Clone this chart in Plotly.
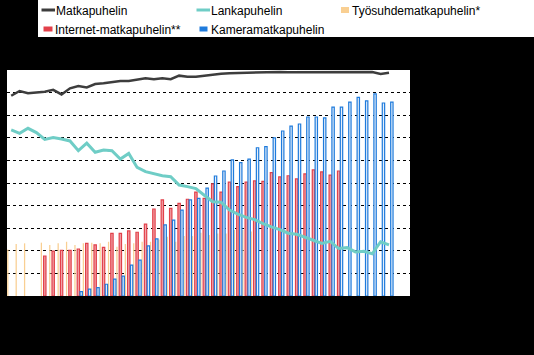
import plotly.graph_objects as go

# ---------------- data ----------------
n_slots = 48  # 46 observed periods + 2 empty slots at the right
x_idx = list(range(46))

matkapuhelin = [88.6, 90.7, 89.7, 90.1, 90.4, 91.2, 89.2, 91.9, 92.9, 92.3,
                93.8, 94.1, 94.6, 95.1, 95.1, 95.6, 96.3, 95.9, 96.3, 95.9,
                97.5, 97.0, 97.0, 97.5, 98.0, 98.3, 98.6, 98.7, 98.9, 99.0,
                98.8, 99.0, 99.1, 99.0, 99.0, 98.9, 99.0, 99.1, 99.0, 99.0,
                99.1, 99.0, 99.2, 99.1, 98.2, 98.8]

lankapuhelin = [73.5, 72.0, 74.2, 72.3, 69.3, 70.1, 69.5, 68.6, 64.3, 67.6,
                63.6, 64.6, 64.3, 60.6, 63.1, 56.9, 55.0, 54.0, 53.2, 52.8,
                49.1, 48.4, 47.5, 44.6, 41.7, 41.5, 38.0, 36.2, 34.8, 33.8,
                32.0, 30.6, 29.4, 27.8, 27.3, 26.0, 24.5, 23.3, 24.2, 21.0,
                21.4, 19.5, 19.8, 18.7, 24.0, 22.6]

tyosuhde = [20.6, 23.0, 23.3, None, 23.6, 22.6, 23.3, 24.0, 22.6, 23.3,
            23.6, 23.3, 24.0, 21.8, 23.0, 23.3, 24.0, 24.0, 25.0, 26.2,
            24.0, 26.5, 26.5, 28.0, 27.0, 27.7, 27.7, 29.2, 29.2, 28.5,
            None, None, None, None, None, None, None, None, None, None,
            None, None, None, None, None, None]

internet = [None, None, None, None, 17.7, 19.9, 20.2, 20.2, 20.8, 23.3,
            22.6, 21.5, 27.7, 27.7, 28.8, 28.2, 31.8, 38.5, 42.5, 38.8,
            41.0, 42.8, 46.0, 43.2, 49.6, 46.0, 50.4, 48.4, 50.4, 50.9,
            50.7, 54.6, 52.7, 53.2, 51.8, 54.0, 55.8, 54.9, 53.5, 55.3,
            None, None, None, None, None, None]

kamera = [None, None, None, None, None, None, None, None, 1.9, 3.0,
          3.7, 5.2, 7.5, 8.8, 13.7, 15.9, 22.2, 25.3, 31.5, 33.6,
          38.0, 42.5, 43.2, 47.7, 53.1, 55.3, 60.2, 59.0, 60.6, 65.6,
          66.1, 70.0, 73.0, 75.2, 76.1, 79.2, 79.2, 78.8, 83.6, 83.6,
          85.8, 87.9, 86.3, 89.4, 85.4, 85.8]

series_names = ["Matkapuhelin", "Lankapuhelin", "Työsuhdematkapuhelin*",
                "Internet-matkapuhelin**", "Kameramatkapuhelin"]

# ---------------- style ----------------
C_MATKA = "#3d3d3d"
C_LANKA = "#6fcdc6"
C_TYO = "#f9cf92"
C_NET = "#e2404a"
C_KAM = "#1f7bdc"
FONT = "Liberation Sans, Arial, sans-serif"

W, H = 534, 355
L, R, T, B = 7, 410, 70, 296


def px_x(px):
    return (px - L) / (R - L)


def px_y(py):
    return (B - py) / (B - T)


fig = go.Figure()

fig.add_trace(go.Bar(x=x_idx, y=tyosuhde, name=series_names[2],
                     width=0.15, offset=-0.48,
                     marker=dict(color=C_TYO, line=dict(width=0))))
fig.add_trace(go.Bar(x=x_idx, y=internet, name=series_names[3],
                     width=0.28, offset=-0.14,
                     marker=dict(color="#f2a3a8", line=dict(color=C_NET, width=1.2))))
fig.add_trace(go.Bar(x=x_idx, y=kamera, name=series_names[4],
                     width=0.28, offset=0.2,
                     marker=dict(color="#e6f0fb", line=dict(color=C_KAM, width=1.2))))
fig.add_trace(go.Scatter(x=x_idx, y=lankapuhelin, name=series_names[1],
                         mode="lines", line=dict(color=C_LANKA, width=3)))
fig.add_trace(go.Scatter(x=x_idx, y=matkapuhelin, name=series_names[0],
                         mode="lines", line=dict(color=C_MATKA, width=2.5)))

# ---------------- custom legend ----------------
shapes = [
    dict(type="rect", xref="paper", yref="paper",
         x0=px_x(38), x1=px_x(534), y0=px_y(37), y1=px_y(0),
         fillcolor="white", line=dict(width=0), layer="above"),
    dict(type="line", xref="paper", yref="paper",
         x0=px_x(41.5), x1=px_x(55), y0=px_y(10), y1=px_y(10),
         line=dict(color=C_MATKA, width=3)),
    dict(type="line", xref="paper", yref="paper",
         x0=px_x(196.5), x1=px_x(210), y0=px_y(10), y1=px_y(10),
         line=dict(color=C_LANKA, width=3)),
    dict(type="rect", xref="paper", yref="paper",
         x0=px_x(341), x1=px_x(349), y0=px_y(13), y1=px_y(7),
         fillcolor=C_TYO, line=dict(width=0)),
    dict(type="rect", xref="paper", yref="paper",
         x0=px_x(43.5), x1=px_x(52.5), y0=px_y(31.5), y1=px_y(26.5),
         fillcolor=C_NET, line=dict(width=0)),
    dict(type="rect", xref="paper", yref="paper",
         x0=px_x(199.5), x1=px_x(207.5), y0=px_y(31.5), y1=px_y(26.5),
         fillcolor=C_KAM, line=dict(width=0)),
]

legend_pos = [(54.5, 10.5), (210, 10.5), (351, 10.5), (54, 29.5), (209.5, 29.5)]
annotations = []
for name, (lx, ly) in zip(series_names, legend_pos):
    annotations.append(dict(text=name, xref="paper", yref="paper",
                            x=px_x(lx), y=px_y(ly), xanchor="left", yanchor="middle",
                            showarrow=False, borderpad=0,
                            font=dict(family=FONT, size=12, color="black")))

fig.update_layout(
    template="none",
    width=W, height=H,
    margin=dict(l=L, r=W - R, t=T, b=H - B, pad=0),
    paper_bgcolor="black",
    plot_bgcolor="white",
    barmode="overlay",
    showlegend=False,
    shapes=shapes,
    annotations=annotations,
    font=dict(family=FONT, size=11, color="black"),
    xaxis=dict(range=[-0.5, n_slots - 0.5], showgrid=False, zeroline=False,
               showticklabels=False, ticks="", showline=False, automargin=False,
               fixedrange=True),
    yaxis=dict(range=[0, 100], dtick=10, showgrid=True, gridcolor="black",
               gridwidth=1, griddash="3px,3px", zeroline=False,
               showticklabels=False, ticks="", showline=False, automargin=False,
               fixedrange=True),
)

fig.write_html("out.html",
               config={"displayModeBar": False, "staticPlot": True},
               post_script="document.body.style.margin='0';"
                           "document.body.style.background='black';")
